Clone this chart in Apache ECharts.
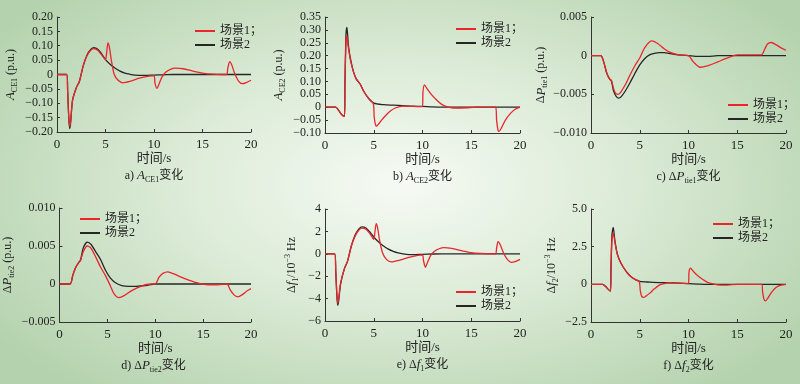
<!DOCTYPE html>
<html><head><meta charset="utf-8">
<script src="https://cdn.jsdelivr.net/npm/echarts@6/dist/echarts.min.js"></script>
<style>
html,body{margin:0;padding:0;}
#c{width:800px;height:384px;background:radial-gradient(ellipse 62% 70% at 50% 48%, #f6faf4 0%, #dcebd7 45%, #b4d2ad 100%);}
</style></head>
<body><div id="c"></div>
<script>
// ---------- data ----------
var xTicks = [0, 5, 10, 15, 20];
var legendNames = ['场景1；', '场景2'];

// a) ACE1
var tA1 = [0,1.0,1.1,1.2,1.3,1.4,1.6,2.0,2.3,2.7,3.1,3.5,3.8,4.2,4.6,5.0,5.1,5.25,5.4,5.6,5.9,6.3,6.8,7.5,8.5,9.5,10.0,10.1,10.3,10.5,10.8,11.2,11.7,12.2,13,14,15,16,17,17.5,17.6,17.8,18.0,18.3,18.7,19.1,19.5,20];
var vA1 = [0,0,-0.06,-0.14,-0.18,-0.165,-0.09,-0.045,-0.025,0.03,0.066,0.085,0.09,0.084,0.068,0.052,0.07,0.11,0.095,0.05,0.0,-0.02,-0.029,-0.024,-0.013,-0.006,-0.004,-0.03,-0.048,-0.035,-0.01,0.008,0.018,0.022,0.02,0.012,0.005,0.001,0,0,0.02,0.045,0.035,0.005,-0.022,-0.032,-0.028,-0.02];
var tA2 = [0,1.0,1.1,1.2,1.3,1.4,1.6,2.0,2.3,2.7,3.1,3.5,3.8,4.2,4.6,5.0,5.5,6.0,6.5,7.0,7.5,8.0,9.0,10.0,11.0,12,20];
var vA2 = [0,0,-0.06,-0.14,-0.188,-0.17,-0.09,-0.045,-0.025,0.03,0.068,0.088,0.093,0.088,0.072,0.052,0.035,0.022,0.012,0.005,0.001,-0.002,-0.003,-0.002,-0.001,0,0];

// b) ACE2
var tB1 = [0,1.1,1.4,1.7,2.0,2.05,2.15,2.22,2.4,2.6,2.9,3.2,3.6,4.0,4.5,4.95,5.05,5.2,5.3,5.5,5.8,6.2,6.7,7.2,8,9,10.0,10.05,10.2,10.5,10.9,11.4,11.9,12.4,13,13.5,14.5,15.5,17.5,17.6,17.75,17.85,18.1,18.5,19,19.5,20];
var vB1 = [0,0,-0.012,-0.028,-0.035,0.1,0.25,0.28,0.23,0.185,0.14,0.11,0.09,0.06,0.033,0.014,-0.04,-0.07,-0.073,-0.065,-0.05,-0.033,-0.015,-0.003,0.004,0.003,0.002,0.06,0.087,0.07,0.05,0.03,0.013,0.003,-0.002,-0.003,-0.002,0,0,-0.05,-0.09,-0.094,-0.08,-0.05,-0.025,-0.008,0];
var tB2 = [0,1.1,1.4,1.7,2.0,2.05,2.15,2.25,2.4,2.6,2.9,3.2,3.6,4.0,4.5,5.0,6,7,8,9,10,11,12,20];
var vB2 = [0,0,-0.012,-0.028,-0.035,0.1,0.28,0.31,0.24,0.19,0.14,0.11,0.09,0.06,0.033,0.016,0.01,0.008,0.006,0.004,0.003,0.001,0,0];

// c) dPtie1
var tC1 = [0,1.0,1.3,1.6,1.9,2.1,2.3,2.5,2.75,3.0,3.5,4.0,4.5,5.0,5.5,6.2,6.8,7.5,8,9,10,10.5,11.2,12,13,14,15,16,17,17.5,17.8,18.1,18.5,19,19.5,20];
var vC1 = [0,0,-0.0008,-0.0022,-0.003,-0.0032,-0.0042,-0.0048,-0.005,-0.0048,-0.0038,-0.0025,-0.0013,-0.0003,0.001,0.0019,0.0016,0.0009,0.0005,0.0001,0,-0.0008,-0.0015,-0.0013,-0.0008,-0.0003,0.0001,0.0001,0.0001,0.0001,0.0008,0.0015,0.0017,0.0014,0.001,0.0007];
var tC2 = [0,1.0,1.3,1.6,1.9,2.1,2.3,2.6,2.85,3.1,3.5,4.0,4.5,5.0,5.5,6.0,6.5,7.0,7.5,8,9,10,11,12,13,20];
var vC2 = [0,0,-0.0008,-0.0022,-0.003,-0.0033,-0.0045,-0.0053,-0.0055,-0.0053,-0.0046,-0.0035,-0.0023,-0.0012,-0.0004,0.0001,0.0003,0.0004,0.0004,0.0003,0.0001,0,-0.0001,-0.0001,0,0];

// d) dPtie2
var tD1 = [0,1.1,1.4,1.7,2.0,2.2,2.5,2.9,3.3,3.8,4.3,4.8,5.3,5.7,6.2,6.8,7.5,8.5,9.5,10.0,10.4,10.8,11.3,12,12.7,13.5,14.5,15.5,16.5,17.5,17.8,18.2,18.6,19.1,19.6,20];
var vD1 = [0,0,0.0012,0.0022,0.0028,0.0031,0.0043,0.005,0.0047,0.0035,0.0022,0.0011,-0.0002,-0.0013,-0.0018,-0.0015,-0.0009,-0.0003,0,0,0.0009,0.0014,0.0016,0.0013,0.0009,0.0005,0.0001,-0.0001,-0.0001,0,-0.0007,-0.0014,-0.0017,-0.0014,-0.0009,-0.0006];
var tD2 = [0,1.1,1.4,1.7,2.0,2.2,2.5,2.9,3.3,3.8,4.3,4.8,5.3,5.8,6.5,7.2,8,9,10,11,20];
var vD2 = [0,0,0.0012,0.0022,0.0028,0.0032,0.0048,0.0055,0.0052,0.0042,0.0032,0.0018,0.0008,0.0002,-0.0002,-0.0003,-0.0003,-0.0002,0,0,0];

// e) df1
var tE1 = [0,1.0,1.1,1.2,1.3,1.4,1.6,2.0,2.3,2.7,3.1,3.5,3.8,4.2,4.6,5.0,5.1,5.25,5.4,5.6,5.9,6.3,6.8,7.5,8.5,9.5,10.0,10.1,10.3,10.5,10.8,11.2,11.7,12.2,13,14,15,16,17,17.5,17.6,17.75,17.95,18.3,18.7,19.1,19.5,20];
var vE1 = [0,0,-1.4,-3.3,-4.4,-4.0,-2.6,-1.3,-0.7,0.7,1.6,2.15,2.3,2.2,1.8,1.3,1.8,2.7,2.3,1.2,0.1,-0.5,-0.72,-0.6,-0.35,-0.15,-0.1,-0.6,-1.2,-0.8,-0.2,0.2,0.45,0.55,0.48,0.28,0.1,0.03,0,0,0.5,1.08,0.85,0.1,-0.5,-0.76,-0.7,-0.5];
var tE2 = [0,1.0,1.1,1.2,1.3,1.4,1.6,2.0,2.3,2.7,3.1,3.5,3.8,4.2,4.6,5.0,5.5,6.0,6.5,7.0,7.5,8,9,10,11,12,20];
var vE2 = [0,0,-1.5,-3.5,-4.6,-4.2,-2.7,-1.3,-0.7,0.7,1.7,2.25,2.4,2.3,1.95,1.5,1.05,0.7,0.42,0.22,0.08,0,-0.08,-0.05,-0.02,0,0];

// f) df2
var tF1 = [0,1.2,1.5,1.8,2.0,2.05,2.15,2.28,2.45,2.7,3.0,3.4,3.8,4.2,4.6,4.95,5.05,5.2,5.4,5.6,6.0,6.5,7.0,7.5,8,9,10.0,10.05,10.2,10.5,10.9,11.4,11.9,12.4,13,14,15,17.5,17.6,17.75,17.9,18.1,18.5,19,19.5,20];
var vF1 = [0,0,-0.15,-0.35,-0.45,1.0,3.0,3.4,2.8,2.0,1.5,1.05,0.7,0.45,0.3,0.2,-0.4,-0.8,-0.87,-0.8,-0.6,-0.3,-0.05,0.05,0.1,0.08,0.05,0.8,1.07,0.85,0.6,0.35,0.15,0.05,-0.03,-0.05,0,0,-0.5,-1.0,-1.1,-0.95,-0.55,-0.2,-0.05,0];
var tF2 = [0,1.2,1.5,1.8,2.0,2.05,2.15,2.28,2.45,2.7,3.0,3.4,3.8,4.2,4.6,5.0,6,7,8,9,10,11,12,20];
var vF2 = [0,0,-0.15,-0.35,-0.45,1.0,3.3,3.78,2.9,2.0,1.5,1.05,0.7,0.45,0.3,0.2,0.15,0.12,0.1,0.08,0.05,0.02,0,0];

// ---------- layout ----------
var serif = '"Liberation Serif","Times New Roman",serif';
var cjk = '"Liberation Serif","Noto Sans CJK SC",serif';
var panels = [
  {grid:{left:57,top:17,width:194,height:115}, y:{min:-0.2,max:0.2,interval:0.05,dec:2}, s:[[tA1,vA1],[tA2,vA2]],
   yname:'{i|A}{sub|CE1} (p.u.)', nameGap:38, legend:{left:190,top:20}, cap:'a) {i|A}{sub|CE1}变化'},
  {grid:{left:325,top:17,width:195,height:116}, y:{min:-0.1,max:0.35,interval:0.05,dec:2}, s:[[tB1,vB1],[tB2,vB2]],
   yname:'{i|A}{sub|CE2} (p.u.)', nameGap:38, legend:{left:451,top:18}, cap:'b) {i|A}{sub|CE2}变化'},
  {grid:{left:591,top:17,width:195,height:116}, y:{min:-0.01,max:0.005,interval:0.005,dec:3}, s:[[tC1,vC1],[tC2,vC2]],
   yname:'Δ{i|P}{sub|tie1} (p.u.)', nameGap:40, legend:{left:723,top:94}, cap:'c) Δ{i|P}{sub|tie1}变化'},
  {grid:{left:56,top:208,width:195,height:114}, y:{min:-0.005,max:0.01,interval:0.005,dec:3}, s:[[tD1,vD1],[tD2,vD2]],
   yname:'Δ{i|P}{sub|tie2} (p.u.)', nameGap:44, legend:{left:75,top:208}, cap:'d) Δ{i|P}{sub|tie2}变化'},
  {grid:{left:325,top:209,width:195,height:112}, y:{min:-6,max:4,interval:2,dec:0}, s:[[tE1,vE1],[tE2,vE2]],
   yname:'Δ{i|f}{sub|1}/10{sup|−3} Hz', nameGap:25, legend:{left:451,top:281}, cap:'e) Δ{i|f}{sub|1}变化'},
  {grid:{left:591,top:209,width:195,height:113}, y:{min:-2.5,max:5,interval:2.5,dec:1}, s:[[tF1,vF1],[tF2,vF2]],
   yname:'Δ{i|f}{sub|2}/10{sup|−3} Hz', nameGap:31, legend:{left:708,top:213}, cap:'f) Δ{i|f}{sub|2}变化'}
];
var rich = {
  i:{fontFamily:serif,fontStyle:'italic',fontSize:13,color:'#222',lineHeight:16},
  sub:{fontFamily:serif,fontSize:8,color:'#222',verticalAlign:'bottom',lineHeight:16,padding:[4,0,0,0]},
  sup:{fontFamily:serif,fontSize:8,color:'#222',verticalAlign:'top',lineHeight:16,padding:[0,0,4,0]}
};
var colors = ['#e8262b','#262626'];
function fmt(dec){return function(v){var s=Math.abs(v)<1e-12?'0':Math.abs(v).toFixed(dec); return (v<-1e-12?'−':'')+s;};}
function zip(t,v){return t.map(function(x,i){return [x,v[i]];});}

var option = {animation:false, grid:[], xAxis:[], yAxis:[], series:[], legend:[], graphic:[]};
panels.forEach(function(p,k){
  option.grid.push(p.grid);
  var axisCommon = {axisLine:{show:true,onZero:false,lineStyle:{color:'#333',width:1}}, axisTick:{show:true,inside:true,length:3,lineStyle:{color:'#333'}}, splitLine:{show:false}};
  option.xAxis.push(Object.assign({type:'value',gridIndex:k,min:0,max:20,interval:5,position:'bottom',
    axisLabel:{fontFamily:serif,fontSize:13,color:'#222',margin:6,formatter:function(v){return xTicks.indexOf(v)>=0?String(v):'';}},
    name:'时间/s',nameLocation:'middle',nameGap:19,nameTextStyle:{fontFamily:cjk,fontSize:13,color:'#222'}},axisCommon));
  option.yAxis.push(Object.assign({type:'value',gridIndex:k,min:p.y.min,max:p.y.max,interval:p.y.interval,position:'left',
    axisLabel:{fontFamily:serif,fontSize:12,color:'#222',margin:4,formatter:fmt(p.y.dec)},
    name:p.yname,nameLocation:'middle',nameRotate:90,nameGap:p.nameGap,
    nameTextStyle:{fontFamily:serif,fontSize:12,color:'#222',rich:rich}},axisCommon));
  p.s.forEach(function(sd,j){
    option.series.push({type:'line',name:legendNames[j],xAxisIndex:k,yAxisIndex:k,data:zip(sd[0],sd[1]),
      showSymbol:false,symbol:'none',smooth:0.25,lineStyle:{color:colors[j],width:1.3},itemStyle:{color:colors[j]},z:j===1?2:3});
  });
  option.legend.push({left:p.legend.left,top:p.legend.top,orient:'vertical',itemWidth:20,itemHeight:2,itemGap:2,
    icon:'rect',data:legendNames,textStyle:{fontFamily:cjk,fontSize:12,color:'#222'},selectedMode:false});
  var cx = p.grid.left + p.grid.width/2;
  var cy = p.grid.top + p.grid.height + 44;
  option.graphic.push({type:'text',x:cx,y:cy,style:{text:p.cap,fontFamily:cjk,fontSize:12,fill:'#222',align:'center',verticalAlign:'middle',rich:rich}});
});
var chart = echarts.init(document.getElementById('c'),null,{renderer:'canvas'});
chart.setOption(option);
</script></body></html>
